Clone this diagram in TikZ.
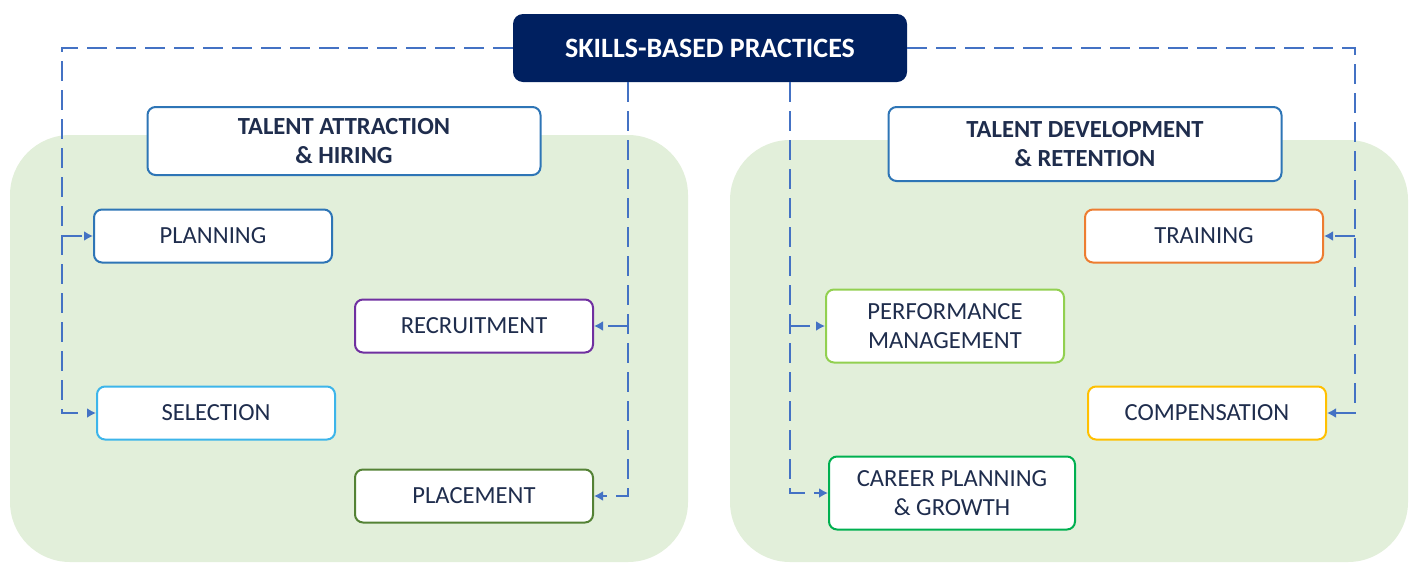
\documentclass[tikz,border=0pt]{standalone}
\usepackage{fontspec}
\setmainfont{Carlito}
\usepackage{xcolor}
\usetikzlibrary{arrows.meta}

\definecolor{navy}{HTML}{002060}
\definecolor{inkc}{HTML}{1F2D4D}
\definecolor{linkc}{HTML}{4472C4}
\definecolor{panelc}{HTML}{E2EFDA}
\definecolor{headc}{HTML}{2E75B6}
\definecolor{planc}{HTML}{2E75B6}
\definecolor{recrc}{HTML}{7030A0}
\definecolor{selc}{HTML}{3DB5EA}
\definecolor{placec}{HTML}{548235}
\definecolor{trainc}{HTML}{ED7D31}
\definecolor{perfc}{HTML}{92D050}
\definecolor{compc}{HTML}{FFC000}
\definecolor{careerc}{HTML}{00B050}

\begin{document}
\begin{tikzpicture}[x=0.5pt, y=-0.5pt,
  item/.style={draw, fill=white, line width=1pt, rounded corners=4pt,
    text=inkc, align=center, font=\fontsize{12.3}{14.5}\selectfont,
    inner sep=0pt, minimum width=119pt, minimum height=26.5pt},
  head/.style={item, draw=headc, font=\fontsize{12.3}{14.5}\selectfont\bfseries,
    minimum width=196.5pt, minimum height=34pt},
  flow/.style={linkc, line width=1.3pt, dash pattern=on 10pt off 4.5pt,
    -{Latex[length=4.5pt, width=5pt]}}]

\useasboundingbox (0,0) rectangle (1414,563);

% Green panels
\fill[panelc, rounded corners=30pt] (10,135) rectangle (688,562);
\fill[panelc, rounded corners=30pt] (730,140) rectangle (1408,562);

% Top box
\node[fill=navy, rounded corners=5pt, text=white, inner sep=0pt,
  minimum width=197pt, minimum height=34pt,
  font=\fontsize{14}{16}\selectfont\bfseries] (skills) at (710,48) {SKILLS-BASED PRACTICES};

% Group headers
\node[head] (attract) at (344,141) {TALENT ATTRACTION\\\& HIRING};
\node[head, minimum height=37pt] (develop) at (1085,144) {TALENT DEVELOPMENT\\\& RETENTION};

% Left practices
\node[item, draw=planc] (plan) at (213,236) {PLANNING};
\node[item, draw=recrc] (recr) at (474,326) {RECRUITMENT};
\node[item, draw=selc] (sel) at (216,413) {SELECTION};
\node[item, draw=placec] (place) at (474,496) {PLACEMENT};

% Right practices
\node[item, draw=trainc] (train) at (1204,236) {TRAINING};
\node[item, draw=perfc, minimum height=36.5pt] (perf) at (945,326) {PERFORMANCE\\MANAGEMENT};
\node[item, draw=compc] (comp) at (1207,413) {COMPENSATION};
\node[item, draw=careerc, minimum width=123pt, minimum height=36.5pt] (career) at (952,493) {CAREER PLANNING\\\& GROWTH};

% Rails
\coordinate (railL) at (62,0);
\coordinate (railLi) at (628,0);
\coordinate (railRi) at (790,0);
\coordinate (railR) at (1355,0);

% Connectors
\draw[flow] (skills.west) -| (railL |- sel.west) -- (sel.west);
\draw[flow] (railL |- plan.west) -- (plan.west);
\draw[flow] (skills.south -| railLi) |- (place.east);
\draw[flow] (railLi |- recr.east) -- (recr.east);
\draw[flow] (skills.east) -| (railR |- comp.east) -- (comp.east);
\draw[flow] (railR |- train.east) -- (train.east);
\draw[flow] (skills.south -| railRi) |- (career.west);
\draw[flow] (railRi |- perf.west) -- (perf.west);

\end{tikzpicture}
\end{document}
